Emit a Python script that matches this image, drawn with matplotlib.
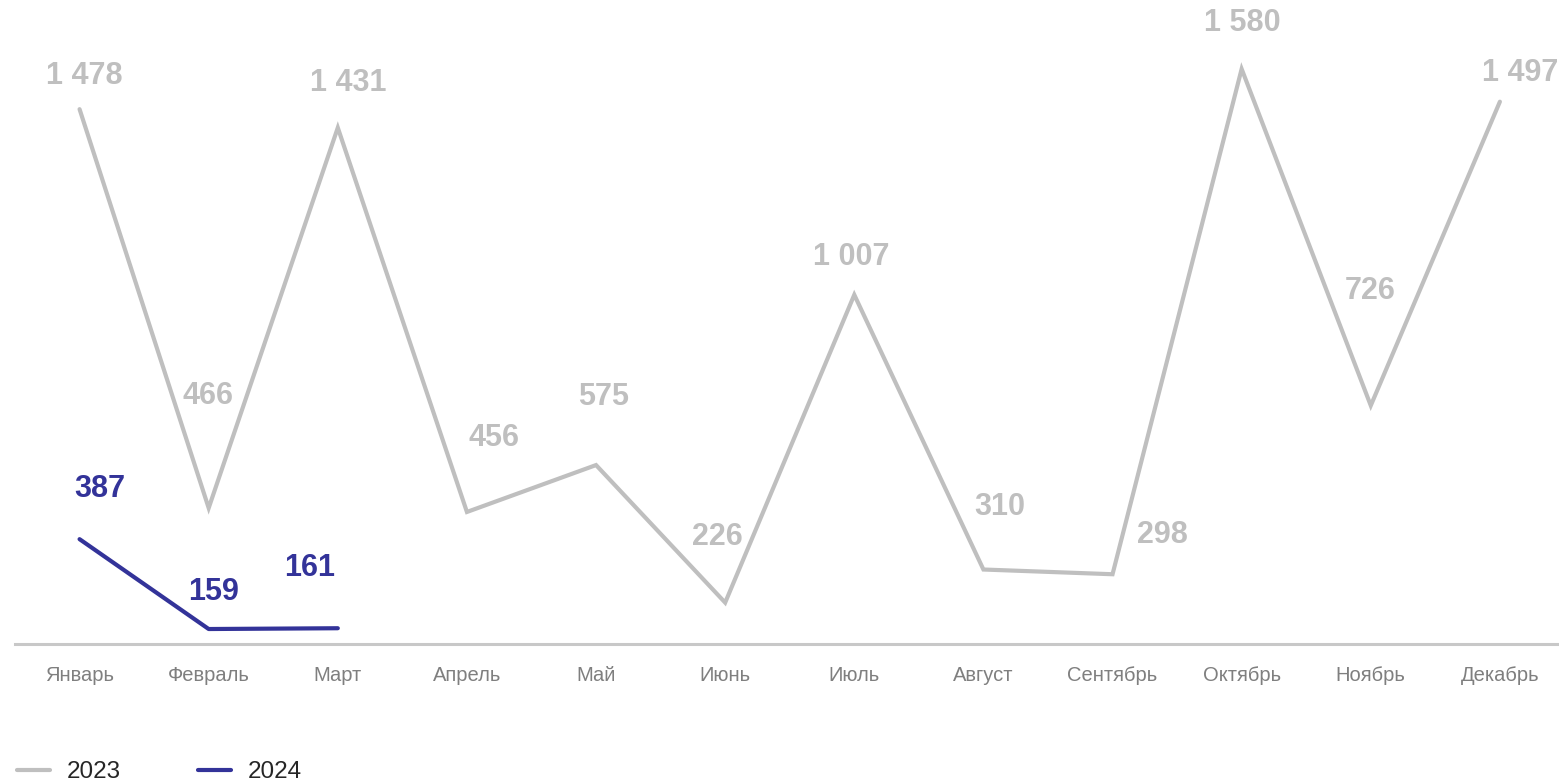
import matplotlib.pyplot as plt

plt.rcParams['font.family'] = ['Liberation Sans', 'DejaVu Sans']

months = ['Январь', 'Февраль', 'Март', 'Апрель', 'Май', 'Июнь', 'Июль',
          'Август', 'Сентябрь', 'Октябрь', 'Ноябрь', 'Декабрь']
values_2023 = [1478, 466, 1431, 456, 575, 226, 1007, 310, 298, 1580, 726, 1497]
values_2024 = [387, 159, 161]

gray = '#BFBFBF'
navy = '#333399'

# label offsets in pixels (dx, dy) from each point
offsets_2023 = [(5, 33), (-1, 112), (10, 45), (27, 74), (8, 68), (-8, 66),
                (-3, 38), (16, 63), (50, 39), (1, 46), (-1, 115), (20, 29)]
offsets_2024 = [(20, 50), (5, 37), (-28, 60)]


def fmt(v):
    return f'{v:,}'.replace(',', ' ')


fig = plt.figure(figsize=(15.59, 7.81), dpi=100)
ax = fig.add_axes([15 / 1559, 1 - 644 / 781, 1543 / 1559, 644 / 781])

x = list(range(len(months)))
l1, = ax.plot(x, values_2023, color=gray, lw=3, solid_joinstyle='miter',
              solid_capstyle='round', label='2023', zorder=2)
l2, = ax.plot(x[:len(values_2024)], values_2024, color=navy, lw=3,
              solid_capstyle='round', label='2024', zorder=3)

for i, v in enumerate(values_2023):
    ax.annotate(fmt(v), (i, v), xytext=offsets_2023[i], textcoords='offset pixels',
                ha='center', va='center', fontsize=22, fontweight='bold', color=gray)
for i, v in enumerate(values_2024):
    ax.annotate(fmt(v), (i, v), xytext=offsets_2024[i], textcoords='offset pixels',
                ha='center', va='center', fontsize=22, fontweight='bold', color=navy)

ax.set_xlim(-0.5, 11.45)
ax.set_ylim(121, 1755)
ax.set_xticks(x)
ax.set_xticklabels(months, fontsize=14.5, color='#7F7F7F')
ax.tick_params(axis='x', length=0, pad=16)
ax.set_yticks([])
for s in ['top', 'right', 'left']:
    ax.spines[s].set_visible(False)
ax.spines['bottom'].set_color('#C8C8C8')
ax.spines['bottom'].set_linewidth(2.2)

leg = fig.legend(handles=[l1, l2], loc='center left',
                 bbox_to_anchor=(17 / 1559, 1 - 772 / 781),
                 ncol=2, frameon=False, fontsize=17.5, handlelength=1.36,
                 handletextpad=0.7, columnspacing=3.15,
                 borderpad=0, borderaxespad=0)
for t in leg.get_texts():
    t.set_color('#262626')

fig.savefig('out.png', dpi=100)
